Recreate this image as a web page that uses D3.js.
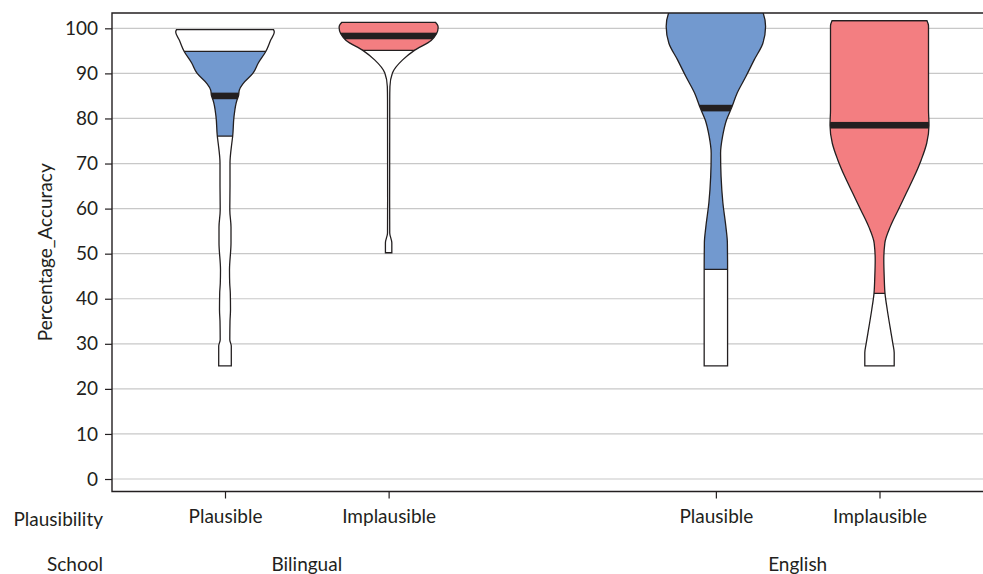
<!DOCTYPE html>
<html>
<head>
<meta charset="utf-8">
<script src="https://cdn.jsdelivr.net/npm/d3@7"></script>
<style>
  body { margin: 0; background: #fff; }
  text { font-family: Lato, "Open Sans", sans-serif; fill: #231f20; }
</style>
</head>
<body>
<div id="chart"></div>
<script>
// ---- data ----
const schools = ["Bilingual", "English"];
const plausibility = ["Plausible", "Implausible"];
const yTicks = [0, 10, 20, 30, 40, 50, 60, 70, 80, 90, 100];

// order: Bilingual-Plausible, Bilingual-Implausible, English-Plausible, English-Implausible
const medians = [85.0, 98.3, 82.3, 78.5];
const q1 = [76.1, 95.1, 46.5, 41.2];
const q3 = [94.9, 101.3, 105.0, 101.7];

// density profiles: [value, relative density]
const densBilPlaus = [[25.1, .126], [29.5, .126], [30.9, .096], [35, .1], [37.5, .11], [41.3, .106], [43.5, .094],
  [46.4, .09], [52.4, .12], [55.9, .12], [59.7, .096], [65, .1], [70.1, .1], [74.5, .136], [76.1, .154],
  [80.4, .18], [84.1, .24], [85.0, .27], [86.3, .286], [87.8, .366], [90.05, .56], [92.3, .666],
  [94.85, .816], [97.4, .914], [99.2, .986], [99.7, .97]];
const densBilImpl = [[50.2, .064], [52.4, .064], [54.6, .022], [61.9, .02], [84.1, .022], [87.1, .026],
  [90.1, .076], [93.0, .28], [95.1, .516], [97.3, .85], [100.1, .99], [100.55, .986], [101.3, .94]];
const densEngPlaus = [[25.1, .234], [46.5, .234], [52.4, .23], [56.0, .2], [61.3, .14], [67.1, .104],
  [72.3, .094], [76.0, .134], [79.7, .214], [82.35, .314], [85.6, .424], [89.3, .6], [93.0, .766],
  [96.7, .94], [100.4, .994], [103.4, .946], [105.0, .88]];
const densEngImpl = [[25.1, .294], [28.0, .294], [30.1, .266], [33.8, .21], [37.5, .156], [41.2, .11],
  [44.9, .094], [48.6, .086], [52.3, .106], [56.0, .216], [59.7, .374], [63.4, .534], [67.1, .694],
  [70.8, .834], [74.5, .944], [78.5, .99], [81.9, .98], [96.7, .98], [100.55, .98], [101.7, .95]];
const densities = [densBilPlaus, densBilImpl, densEngPlaus, densEngImpl];

const fills = ["#7299cf", "#f37e81", "#7299cf", "#f37e81"];

// ---- layout ----
const width = 983, height = 574;
const margin = { top: 13, right: 0, bottom: 82.5, left: 112 };
const innerH = height - margin.top - margin.bottom;
const fontSize = 19;

const svg = d3.select("#chart").append("svg")
  .attr("width", width)
  .attr("height", height);

const keys = [];
schools.forEach((s, i) => {
  plausibility.forEach(p => keys.push(s + "|" + p));
  if (i < schools.length - 1) keys.push("gap");
});

const xScale = d3.scalePoint()
  .domain(keys)
  .range([225, 879.5]);

const yScale = d3.scaleLinear()
  .domain([-2.77, 103.4])
  .range([margin.top + innerH, margin.top]);

const wScale = d3.scaleLinear()
  .domain([0, 1])
  .range([0, 50]);

// grid lines
svg.append("g")
  .selectAll("line")
  .data(yTicks)
  .join("line")
  .attr("x1", margin.left)
  .attr("x2", width)
  .attr("y1", d => yScale(d))
  .attr("y2", d => yScale(d))
  .attr("stroke", "#c8c8c8")
  .attr("stroke-width", 1.2);

// plot clip
svg.append("defs").append("clipPath")
  .attr("id", "plot-clip")
  .append("rect")
  .attr("x", margin.left)
  .attr("y", margin.top)
  .attr("width", width - margin.left)
  .attr("height", innerH);

const groupKeys = keys.filter(k => k !== "gap");
const plot = svg.append("g").attr("clip-path", "url(#plot-clip)");

groupKeys.forEach((key, i) => {
  const cx = xScale(key);
  const area = d3.area()
    .curve(d3.curveMonotoneY)
    .y(d => yScale(d[0]))
    .x0(d => cx - wScale(d[1]))
    .x1(d => cx + wScale(d[1]));
  const shape = area(densities[i]);

  plot.append("clipPath")
    .attr("id", "violin-" + i)
    .append("path")
    .attr("d", shape);

  const g = plot.append("g");
  g.append("path")
    .attr("d", shape)
    .attr("fill", "#fff");

  const inner = g.append("g").attr("clip-path", "url(#violin-" + i + ")");
  inner.append("rect")
    .attr("x", cx - 60)
    .attr("width", 120)
    .attr("y", yScale(q3[i]))
    .attr("height", yScale(q1[i]) - yScale(q3[i]))
    .attr("fill", fills[i]);

  inner.selectAll("line.q")
    .data([q1[i], q3[i]])
    .join("line")
    .attr("class", "q")
    .attr("x1", cx - 60)
    .attr("x2", cx + 60)
    .attr("y1", d => yScale(d))
    .attr("y2", d => yScale(d))
    .attr("stroke", "#231f20")
    .attr("stroke-width", 1.2);

  inner.append("rect")
    .attr("x", cx - 60)
    .attr("width", 120)
    .attr("y", yScale(medians[i]) - 3.3)
    .attr("height", 6.6)
    .attr("fill", "#231f20");

  g.append("path")
    .attr("d", shape)
    .attr("fill", "none")
    .attr("stroke", "#231f20")
    .attr("stroke-width", 1.3);
});

// axes
const yAxis = d3.axisLeft(yScale)
  .tickValues(yTicks)
  .tickSize(7)
  .tickPadding(7);

const yG = svg.append("g")
  .attr("transform", "translate(" + margin.left + ",0)")
  .call(yAxis);
yG.select(".domain").remove();
yG.selectAll(".tick line").attr("stroke", "#231f20").attr("stroke-width", 1.2);
yG.selectAll(".tick text")
  .attr("font-size", fontSize)
  .attr("font-family", "Lato, 'Open Sans', sans-serif")
  .attr("fill", "#231f20");

// frame: left, top, bottom
svg.append("path")
  .attr("d", "M" + width + "," + margin.top + "H" + margin.left + "V" + (margin.top + innerH) + "H" + width)
  .attr("fill", "none")
  .attr("stroke", "#231f20")
  .attr("stroke-width", 1.4);

const xAxis = d3.axisBottom(xScale)
  .tickValues(groupKeys)
  .tickFormat(d => d.split("|")[1])
  .tickSize(7)
  .tickPadding(11);

const xG = svg.append("g")
  .attr("transform", "translate(0," + (margin.top + innerH) + ")")
  .call(xAxis);
xG.select(".domain").remove();
xG.selectAll(".tick line").attr("stroke", "#231f20").attr("stroke-width", 1.2);
xG.selectAll(".tick text")
  .attr("font-size", fontSize)
  .attr("font-family", "Lato, 'Open Sans', sans-serif")
  .attr("fill", "#231f20");

// row labels
svg.append("text")
  .attr("x", 103)
  .attr("y", 518)
  .attr("text-anchor", "end")
  .attr("dominant-baseline", "central")
  .attr("font-size", fontSize)
  .text("Plausibility");

svg.append("text")
  .attr("x", 103)
  .attr("y", 563)
  .attr("text-anchor", "end")
  .attr("dominant-baseline", "central")
  .attr("font-size", fontSize)
  .text("School");

svg.append("g")
  .selectAll("text")
  .data(schools)
  .join("text")
  .attr("x", s => (xScale(s + "|" + plausibility[0]) + xScale(s + "|" + plausibility[1])) / 2)
  .attr("y", 563)
  .attr("text-anchor", "middle")
  .attr("dominant-baseline", "central")
  .attr("font-size", fontSize)
  .text(s => s);

// y title
svg.append("text")
  .attr("transform", "translate(44," + (margin.top + innerH / 2) + ") rotate(-90)")
  .attr("text-anchor", "middle")
  .attr("dominant-baseline", "central")
  .attr("font-size", fontSize)
  .text("Percentage_Accuracy");
</script>
</body>
</html>
